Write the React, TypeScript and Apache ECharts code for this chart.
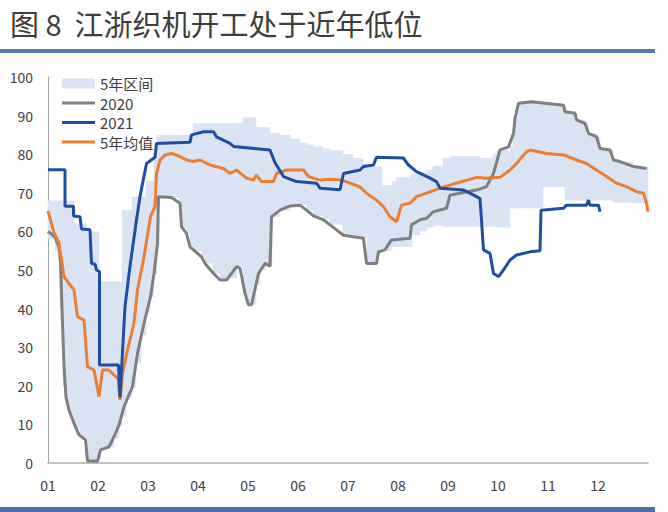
import React, { useEffect, useRef } from "react";
import * as echarts from "echarts";

const monthLabels = ["01", "02", "03", "04", "05", "06", "07", "08", "09", "10", "11", "12"];
const legendNames = ["5年区间", "2020", "2021", "5年均值"];

// x positions are in months since 1 Jan (0 = start of Jan, 12 = end of Dec)
const bandX = [0, 0.14, 0.24, 0.3, 0.36, 0.44, 0.52, 0.64, 0.78, 1.02, 1.06, 1.22, 1.32, 1.42, 1.48, 1.56, 1.68, 1.76, 1.86, 1.96, 2.04, 2.12, 2.18, 2.22, 2.64, 2.68, 2.78, 2.84, 2.9, 3.08, 3.14, 3.3, 3.44, 3.58, 3.78, 3.9, 3.96, 4.08, 4.16, 4.24, 4.34, 4.44, 4.48, 4.64, 4.84, 5.04, 5.18, 5.3, 5.5, 5.64, 5.9, 6.1, 6.3, 6.38, 6.6, 6.68, 6.88, 6.96, 7.24, 7.28, 7.44, 7.58, 7.7, 7.9, 8.04, 8.64, 8.9, 8.98, 9.24, 9.3, 9.34, 9.4, 9.68, 9.9, 10.3, 10.34, 10.54, 10.58, 10.74, 10.8, 10.98, 11.04, 11.24, 11.3, 11.44, 11.7, 12];
const bandLow = [58, 55, 40, 20, 15, 12, 9, 6.5, 0.5, 1, 3.5, 4, 6.5, 9.5, 12, 17, 19.5, 26, 33, 39, 43, 49, 56, 68.8, 67.3, 61, 59.5, 56, 55, 53.4, 51.7, 49.1, 47.4, 48, 50.9, 45, 42, 41, 46, 50, 51.7, 51, 63.8, 65.5, 66.5, 66.8, 65.5, 64, 63, 61.7, 59, 58.5, 58.2, 51.7, 54.7, 55, 56, 56, 56, 59, 60, 61, 61.5, 61.2, 61.2, 61.2, 61.2, 61, 66, 66, 66, 66, 66, 71.5, 71.5, 68, 68, 68, 68, 68, 68, 68, 68, 67.5, 67.5, 67.3, 67.3];
const bandHigh = [68, 68, 68, 68, 68, 68, 62, 62, 60, 47, 47, 47, 47, 47, 65.5, 65.5, 69, 69, 69, 73, 73, 81, 85, 85, 85, 85, 85, 85, 88, 88, 88, 88, 88, 88, 88, 89.5, 89.5, 89.5, 87, 87, 87, 85.5, 85.5, 85, 84, 83, 82.5, 82, 81.5, 81, 80, 79, 77.5, 76.8, 76.8, 72, 73, 74, 74.5, 75, 75.5, 76, 77, 79, 79.5, 79, 80, 81, 82, 85.4, 89.3, 93.2, 93.6, 93.2, 92.7, 91, 90.6, 88.9, 88, 85.4, 84.5, 81.5, 81.1, 78.5, 78.1, 76.8, 76.3];

const x2020 = [0, 0.14, 0.22, 0.25, 0.28, 0.32, 0.36, 0.42, 0.52, 0.62, 0.75, 0.79, 0.99, 1.05, 1.22, 1.32, 1.42, 1.52, 1.69, 1.79, 1.92, 2.05, 2.12, 2.19, 2.21, 2.47, 2.64, 2.67, 2.77, 2.84, 3.07, 3.14, 3.31, 3.44, 3.57, 3.77, 3.84, 3.94, 4.01, 4.07, 4.21, 4.34, 4.44, 4.47, 4.64, 4.84, 5.04, 5.17, 5.31, 5.51, 5.64, 5.91, 6.31, 6.37, 6.57, 6.61, 6.74, 6.87, 7.24, 7.27, 7.44, 7.57, 7.71, 7.97, 8.04, 8.24, 8.57, 8.77, 8.91, 9.04, 9.21, 9.31, 9.34, 9.41, 9.67, 10.31, 10.34, 10.54, 10.57, 10.74, 10.81, 10.97, 11.04, 11.24, 11.31, 11.44, 11.71, 11.97];
const y2020 = [60, 58.5, 56, 52, 40, 25, 17, 13.7, 10.3, 7.3, 6, 0.5, 0.5, 3.4, 4.2, 6.8, 9.8, 14.6, 19.8, 28.4, 36.2, 43.1, 49.1, 56.9, 69, 68.8, 67.3, 61.2, 59.5, 56, 53.4, 51.7, 49.1, 47.4, 47.4, 50.9, 50.5, 43.9, 41, 41, 49.1, 51.7, 51, 63.8, 65.5, 66.6, 66.8, 65.5, 64, 63, 61.7, 59, 58.2, 51.7, 51.7, 54.7, 55.2, 57.8, 58.2, 61.7, 63, 63.4, 65.1, 66, 69.4, 69.9, 70.7, 71.6, 75, 81.1, 81.9, 85.4, 89.3, 93.2, 93.6, 92.7, 91, 90.6, 88.9, 88, 85.4, 84.5, 81.5, 81.1, 78.5, 78.1, 76.8, 76.3];

const x2021 = [0, 0.34, 0.34, 0.51, 0.51, 0.64, 0.67, 0.84, 0.87, 0.94, 0.97, 1.03, 1.03, 1.41, 1.44, 1.54, 1.64, 1.77, 1.84, 1.97, 2.14, 2.17, 2.84, 2.87, 3.11, 3.31, 3.37, 3.64, 3.71, 4.44, 4.54, 4.71, 4.97, 5.37, 5.44, 5.84, 5.91, 6.24, 6.31, 6.51, 6.57, 7.11, 7.21, 7.37, 7.64, 7.77, 7.84, 8.31, 8.44, 8.57, 8.64, 8.71, 8.84, 8.91, 9.01, 9.11, 9.24, 9.37, 9.64, 9.84, 9.86, 10.31, 10.37, 10.77, 10.81, 10.84, 11.01, 11.04];
const y2021 = [76, 76, 66.5, 66.5, 64, 63.8, 60.6, 60.4, 51.7, 51.5, 50, 49.6, 25.4, 25.4, 17, 40.5, 51, 63, 69, 77.6, 79.2, 82.8, 83.1, 85, 85.8, 85.8, 84.5, 82.8, 82, 81.1, 77.8, 74.2, 72.9, 72.5, 71.2, 70.8, 75, 75.9, 76.8, 77.2, 79.2, 79, 77.2, 75.5, 73.8, 72.9, 71.2, 70.7, 69.9, 69, 68.5, 55.2, 54.3, 49.1, 48.3, 50, 52.6, 53.9, 54.7, 55, 65.5, 66, 66.8, 66.8, 68.1, 66.8, 66.8, 65.1];

const xAvg = [0, 0.12, 0.22, 0.32, 0.42, 0.52, 0.59, 0.72, 0.79, 0.92, 1.02, 1.09, 1.22, 1.35, 1.4, 1.44, 1.49, 1.59, 1.72, 1.79, 1.92, 2.05, 2.14, 2.17, 2.24, 2.34, 2.47, 2.64, 2.77, 2.91, 3.04, 3.24, 3.51, 3.64, 3.77, 3.97, 4.11, 4.17, 4.27, 4.51, 4.57, 4.77, 5.11, 5.21, 5.44, 5.64, 5.87, 6.04, 6.24, 6.37, 6.57, 6.71, 6.84, 6.97, 7.07, 7.24, 7.37, 7.57, 7.84, 8.17, 8.57, 8.77, 9.04, 9.24, 9.37, 9.57, 9.64, 9.97, 10.31, 10.57, 10.77, 10.97, 11.17, 11.37, 11.57, 11.77, 11.91, 11.97, 12];
const yAvg = [65.3, 59.6, 57, 48.3, 46.5, 44.8, 37.9, 37, 24.9, 24.1, 17.2, 24.1, 24.1, 22.4, 22, 16.3, 23.2, 29.3, 36.2, 44.8, 53.4, 63.8, 66.4, 75, 78.5, 79.8, 80.2, 79.4, 78.5, 78.1, 78.5, 77.2, 76.3, 75, 75.9, 73.8, 73.3, 74.6, 72.9, 72.9, 75, 75.9, 75.9, 74.2, 73.3, 73.5, 73.3, 72.5, 71.5, 69.9, 68.1, 66.4, 63.8, 62.5, 66.8, 67.3, 69, 69.9, 71.2, 72.5, 74, 73.8, 74, 75.9, 77.6, 80.6, 81.1, 80.2, 79.8, 78.5, 77.6, 75.9, 74.2, 72.5, 71.6, 70.3, 69.9, 67.3, 65.1];

const zip = (xs: number[], ys: number[]) => xs.map((x, i) => [x, ys[i]]);

const FONT = "'Noto Sans CJK SC', 'Noto Sans', sans-serif";
const BAND = "#dae3f3";
const GRAY = "#7f7f7f";
const BLUE = "#1f4ea0";
const ORANGE = "#ed7d31";
const LINE_ICON = "path://M0,0M0,3.5L33,3.5L33,6.5L0,6.5ZM33,10";

// each band item: [x start, x end, low, high]
const bandData = bandX.slice(0, -1).map((x, i) => [x, bandX[i + 1], bandLow[i], bandHigh[i]]);

export default function App() {
  const ref = useRef<HTMLDivElement>(null);
  useEffect(() => {
    const chart = echarts.init(ref.current!, null, { renderer: "svg" });
    chart.setOption({
      animation: false,
      backgroundColor: "#ffffff",
      title: {
        text: "图 8  江浙织机开工处于近年低位",
        left: 5,
        top: 3,
        textStyle: { fontSize: 29, fontWeight: "normal", color: "#3d3d3d", fontFamily: FONT },
      },
      graphic: [
        { type: "rect", left: 0, top: 49, shape: { width: 655, height: 4 }, style: { fill: "#5279b4" } },
        { type: "rect", left: 0, top: 507, shape: { width: 655, height: 5 }, style: { fill: "#4a70a8" } },
      ],
      legend: {
        orient: "vertical",
        left: 57,
        top: 71,
        itemWidth: 33,
        itemHeight: 10,
        itemGap: 4.5,
        textStyle: { fontSize: 15, color: "#404040", fontFamily: FONT },
        data: [
          { name: legendNames[0], icon: "rect", itemStyle: { color: BAND } },
          { name: legendNames[1], icon: LINE_ICON, itemStyle: { color: GRAY } },
          { name: legendNames[2], icon: LINE_ICON, itemStyle: { color: BLUE } },
          { name: legendNames[3], icon: LINE_ICON, itemStyle: { color: ORANGE } },
        ],
      },
      grid: { left: 48, right: 20, top: 77, bottom: 49, containLabel: false },
      xAxis: {
        type: "value",
        min: 0,
        max: 12,
        interval: 1,
        axisLine: { show: true, lineStyle: { color: "#c2c2c2", width: 2 } },
        axisTick: { show: false },
        splitLine: { show: false },
        axisLabel: {
          fontSize: 14,
          color: "#404040",
          fontFamily: FONT,
          margin: 15,
          formatter: (v: number) => (v < 12 ? monthLabels[Math.round(v)] : ""),
        },
      },
      yAxis: {
        type: "value",
        min: 0,
        max: 100,
        interval: 10,
        axisLine: { show: true, lineStyle: { color: "#a6a6a6", width: 1 } },
        axisTick: { show: false },
        splitLine: { show: false },
        axisLabel: { fontSize: 14, color: "#404040", fontFamily: FONT, margin: 15 },
      },
      series: [
        {
          name: legendNames[0],
          type: "custom",
          silent: true,
          itemStyle: { color: BAND },
          encode: { x: [0, 1], y: [2, 3] },
          data: bandData,
          renderItem: (params: any, api: any) => {
            const p0 = api.coord([api.value(0), api.value(3)]);
            const p1 = api.coord([api.value(1), api.value(2)]);
            return {
              type: "rect",
              shape: { x: p0[0] - 0.3, y: p0[1], width: p1[0] - p0[0] + 0.6, height: p1[1] - p0[1] },
              style: { fill: BAND },
            };
          },
        },
        {
          name: legendNames[1],
          type: "line",
          symbol: "none",
          itemStyle: { color: GRAY },
          lineStyle: { color: GRAY, width: 3 },
          data: zip(x2020, y2020),
        },
        {
          name: legendNames[3],
          type: "line",
          symbol: "none",
          itemStyle: { color: ORANGE },
          lineStyle: { color: ORANGE, width: 3 },
          data: zip(xAvg, yAvg),
        },
        {
          name: legendNames[2],
          type: "line",
          symbol: "none",
          itemStyle: { color: BLUE },
          lineStyle: { color: BLUE, width: 3 },
          data: zip(x2021, y2021),
        },
      ],
    });
    return () => chart.dispose();
  }, []);
  return <div ref={ref} style={{ position: "fixed", left: 0, top: 0, width: 668, height: 512 }} />;
}
